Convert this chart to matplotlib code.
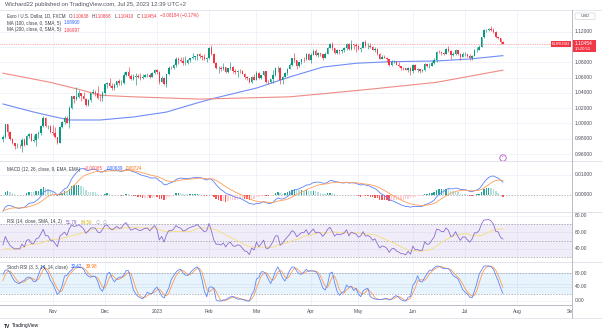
import numpy as np
import pandas as pd
import matplotlib
matplotlib.use("Agg")
import matplotlib.pyplot as plt
from matplotlib.patches import Rectangle, FancyBboxPatch, Ellipse
from matplotlib.lines import Line2D
from matplotlib.transforms import blended_transform_factory

# ---------------- data: EUR/USD daily, Oct 3 2022 .. Jul 25 2023 ----------------
# closes before the first shown bar, only used to warm up the oscillators
warmup_closes = [1.0260, 1.0165, 1.0168, 1.0246, 1.0180, 1.0197, 1.0211, 1.0297, 1.0320, 1.0260,
                 1.0159, 1.0169, 1.0178, 1.0090, 1.0038, 0.9943, 0.9970, 0.9967, 0.9970, 0.9964,
                 1.0002, 1.0016, 1.0054, 0.9947, 0.9956, 0.9926, 0.9904, 1.0014, 1.0000, 1.0044,
                 1.0122, 0.9968, 0.9980, 0.9995, 1.0015, 1.0025, 0.9970, 0.9836, 0.9837, 0.9690,
                 0.9607, 0.9593, 0.9736, 0.9815, 0.9802]

closes = [
    # Oct
    0.9825, 0.9987, 0.9885, 0.9794, 0.9740, 0.9705, 0.9707, 0.9702, 0.9780, 0.9720, 0.9840,
    0.9856, 0.9776, 0.9780, 0.9862, 0.9880, 0.9964, 1.0078, 0.9966, 0.9966, 0.9882,
    # Nov
    0.9877, 0.9820, 0.9749, 0.9959, 1.0018, 1.0074, 1.0012, 1.0209, 1.0356, 1.0327, 1.0350,
    1.0394, 1.0364, 1.0325, 1.0243, 1.0308, 1.0397, 1.0408, 1.0400, 1.0338, 1.0330, 1.0405,
    # Dec
    1.0523, 1.0535, 1.0493, 1.0466, 1.0506, 1.0555, 1.0531, 1.0537, 1.0632, 1.0677, 1.0628,
    1.0584, 1.0606, 1.0620, 1.0605, 1.0595, 1.0616, 1.0638, 1.0639, 1.0614, 1.0661, 1.0705,
    # Jan
    1.0669, 1.0550, 1.0603, 1.0522, 1.0644, 1.0734, 1.0733, 1.0763, 1.0852, 1.0830, 1.0821,
    1.0788, 1.0796, 1.0830, 1.0855, 1.0871, 1.0885, 1.0912, 1.0891, 1.0868, 1.0847, 1.0862,
    # Feb
    1.0990, 1.0912, 1.0795, 1.0727, 1.0727, 1.0714, 1.0740, 1.0679, 1.0724, 1.0739, 1.0687,
    1.0676, 1.0694, 1.0686, 1.0650, 1.0605, 1.0595, 1.0545, 1.0608, 1.0576,
    # Mar
    1.0666, 1.0597, 1.0633, 1.0683, 1.0548, 1.0544, 1.0581, 1.0641, 1.0730, 1.0733, 1.0577,
    1.0611, 1.0668, 1.0718, 1.0770, 1.0853, 1.0830, 1.0760, 1.0801, 1.0844, 1.0843, 1.0905, 1.0839,
    # Apr
    1.0902, 1.0956, 1.0903, 1.0919, 1.0905, 1.0861, 1.0914, 1.0995, 1.1047, 1.0991, 1.0925,
    1.0970, 1.0956, 1.0970, 1.0990, 1.1049, 1.0972, 1.1041, 1.1028, 1.1017,
    # May
    1.0977, 1.0996, 1.1067, 1.1012, 1.1019, 1.1004, 1.0962, 1.0980, 1.0917, 1.0850, 1.0874,
    1.0863, 1.0840, 1.0769, 1.0805, 1.0813, 1.0771, 1.0752, 1.0725, 1.0723, 1.0705, 1.0734, 1.0689,
    # Jun
    1.0763, 1.0708, 1.0712, 1.0694, 1.0699, 1.0781, 1.0748, 1.0754, 1.0792, 1.0830, 1.0944,
    1.0938, 1.0922, 1.0918, 1.0976, 1.0955, 1.0894, 1.0905, 1.0960, 1.0913, 1.0866, 1.0910,
    # Jul
    1.0910, 1.0880, 1.0853, 1.0888, 1.0968, 1.0970, 1.1006, 1.1128, 1.1225, 1.1228, 1.1238,
    1.1225, 1.1199, 1.1128, 1.1124, 1.10638, 1.10454,
]

highs = [
    0.9855, 0.9999, 0.9990, 0.9905, 0.9808, 0.9750, 0.9740, 0.9737, 0.9808, 0.9808, 0.9851,
    0.9876, 0.9871, 0.9851, 0.9870, 0.9905, 0.9976, 1.0093, 1.0089, 0.9985, 0.9985,
    0.9976, 0.9953, 0.9823, 0.9966, 1.0034, 1.0095, 1.0094, 1.0223, 1.0365, 1.0364, 1.0481,
    1.0443, 1.0405, 1.0407, 1.0331, 1.0318, 1.0406, 1.0448, 1.0436, 1.0497, 1.0389, 1.0429,
    1.0534, 1.0545, 1.0595, 1.0525, 1.0530, 1.0560, 1.0588, 1.0570, 1.0674, 1.0695, 1.0737,
    1.0652, 1.0645, 1.0666, 1.0645, 1.0658, 1.0645, 1.0645, 1.0666, 1.0665, 1.0675, 1.0714,
    1.0711, 1.0683, 1.0624, 1.0610, 1.0650, 1.0760, 1.0760, 1.0776, 1.0868, 1.0874, 1.0874,
    1.0872, 1.0887, 1.0846, 1.0860, 1.0927, 1.0890, 1.0915, 1.0929, 1.0897, 1.0914, 1.0874,
    1.1000, 1.1033, 1.0930, 1.0802, 1.0760, 1.0757, 1.0790, 1.0745, 1.0734, 1.0805, 1.0760,
    1.0714, 1.0700, 1.0718, 1.0700, 1.0668, 1.0625, 1.0600, 1.0621, 1.0646,
    1.0691, 1.0670, 1.0638, 1.0694, 1.0694, 1.0565, 1.0584, 1.0702, 1.0736, 1.0759, 1.0747,
    1.0629, 1.0680, 1.0730, 1.0788, 1.0856, 1.0930, 1.0830, 1.0809, 1.0849, 1.0868, 1.0925, 1.0925,
    1.0920, 1.0973, 1.0971, 1.0944, 1.0921, 1.0915, 1.0938, 1.0998, 1.1050, 1.1075, 1.0993,
    1.0981, 1.0982, 1.0974, 1.0999, 1.1054, 1.1050, 1.1095, 1.1045, 1.1054,
    1.1035, 1.1008, 1.1077, 1.1092, 1.1055, 1.1058, 1.1017, 1.1000, 1.0990, 1.0926, 1.0897,
    1.0904, 1.0878, 1.0845, 1.0830, 1.0830, 1.0818, 1.0808, 1.0760, 1.0740, 1.0730, 1.0746, 1.0735,
    1.0779, 1.0779, 1.0733, 1.0712, 1.0718, 1.0787, 1.0786, 1.0790, 1.0823, 1.0865, 1.0953,
    1.0970, 1.0937, 1.0936, 1.0985, 1.1012, 1.0960, 1.0934, 1.0976, 1.0966, 1.0926, 1.0933,
    1.0935, 1.0912, 1.0906, 1.0896, 1.0975, 1.0998, 1.1026, 1.1139, 1.1233, 1.1245, 1.1250,
    1.1276, 1.1246, 1.1216, 1.1145, 1.1125, 1.10868,
]

lows = [
    0.9755, 0.9810, 0.9835, 0.9780, 0.9730, 0.9670, 0.9685, 0.9680, 0.9632, 0.9706, 0.9720,
    0.9805, 0.9765, 0.9758, 0.9705, 0.9808, 0.9850, 0.9955, 0.9955, 0.9925, 0.9870,
    0.9852, 0.9813, 0.9730, 0.9746, 0.9935, 0.9996, 1.0000, 0.9935, 1.0185, 1.0270, 1.0310,
    1.0335, 1.0300, 1.0315, 1.0223, 1.0225, 1.0285, 1.0385, 1.0357, 1.0325, 1.0290, 1.0290,
    1.0380, 1.0460, 1.0480, 1.0444, 1.0443, 1.0485, 1.0510, 1.0500, 1.0520, 1.0620, 1.0595,
    1.0575, 1.0572, 1.0500, 1.0593, 1.0573, 1.0585, 1.0605, 1.0610, 1.0595, 1.0610, 1.0650,
    1.0653, 1.0520, 1.0547, 1.0510, 1.0483, 1.0640, 1.0712, 1.0720, 1.0740, 1.0780, 1.0805,
    1.0765, 1.0766, 1.0776, 1.0802, 1.0852, 1.0836, 1.0834, 1.0858, 1.0838, 1.0836, 1.0801,
    1.0843, 1.0895, 1.0795, 1.0709, 1.0668, 1.0687, 1.0700, 1.0664, 1.0656, 1.0701, 1.0659,
    1.0655, 1.0613, 1.0660, 1.0643, 1.0590, 1.0577, 1.0536, 1.0533, 1.0570,
    1.0576, 1.0578, 1.0585, 1.0622, 1.0537, 1.0524, 1.0537, 1.0525, 1.0620, 1.0679, 1.0516,
    1.0518, 1.0606, 1.0630, 1.0711, 1.0760, 1.0810, 1.0713, 1.0746, 1.0786, 1.0808, 1.0833, 1.0832,
    1.0788, 1.0892, 1.0887, 1.0877, 1.0880, 1.0833, 1.0853, 1.0910, 1.0990, 1.0968, 1.0910,
    1.0912, 1.0914, 1.0925, 1.0937, 1.0966, 1.0965, 1.0968, 1.0980, 1.0942,
    1.0966, 1.0940, 1.0985, 1.1004, 1.0975, 1.0995, 1.0960, 1.0940, 1.0904, 1.0847, 1.0846,
    1.0858, 1.0810, 1.0760, 1.0760, 1.0790, 1.0762, 1.0747, 1.0708, 1.0703, 1.0698, 1.0672, 1.0635,
    1.0663, 1.0703, 1.0675, 1.0667, 1.0676, 1.0687, 1.0735, 1.0733, 1.0749, 1.0776, 1.0813,
    1.0925, 1.0904, 1.0894, 1.0916, 1.0943, 1.0845, 1.0885, 1.0899, 1.0896, 1.0835, 1.0867,
    1.0890, 1.0870, 1.0834, 1.0833, 1.0879, 1.0941, 1.0963, 1.0998, 1.1125, 1.1200, 1.1213,
    1.1217, 1.1184, 1.1117, 1.1102, 1.1046, 1.10410,
]

# FX daily bars open where the previous bar closed
opens = [warmup_closes[-1]] + closes[:-1]

# moving averages, read at selected bars
ma100_at = [0, 13, 20, 28, 41, 55, 69, 82, 89, 107, 121, 135, 149, 163, 183, 197, 211]
ma100_val = [1.0256, 1.0150, 1.0100, 1.0046, 1.0046, 1.0085, 1.0150, 1.0270, 1.0330, 1.0465,
             1.0610, 1.0740, 1.0790, 1.0810, 1.0820, 1.0846, 1.08900]
ma200_at = [0, 20, 33, 41, 55, 83, 121, 135, 155, 183, 197, 211]
ma200_val = [1.0660, 1.0540, 1.0440, 1.0370, 1.0350, 1.0320, 1.0350, 1.0390, 1.0450, 1.0540,
             1.0620, 1.06997]

month_at = [21, 43, 65, 87, 107, 130, 150, 173, 195, 217, 240]
month_labels = ["Nov", "Dec", "2023", "Feb", "Mar", "Apr", "May", "Jun", "Jul", "Aug", "Sep"]

price_ticks = [1.12, 1.10, 1.08, 1.06, 1.04, 1.02, 1.00, 0.98, 0.96]
macd_ticks = [0.01, 0.0]
rsi_ticks = [80, 60, 40]
stoch_ticks = [80, 40, 0]

last_close = 1.10454

# ---------------- indicators ----------------
c_all = pd.Series(warmup_closes + closes, dtype=float)
nw = len(warmup_closes)
n = len(closes)

ema12 = c_all.ewm(span=12, adjust=False).mean()
ema26 = c_all.ewm(span=26, adjust=False).mean()
macd_all = ema12 - ema26
signal_all = macd_all.ewm(span=9, adjust=False).mean()
hist_all = macd_all - signal_all


def rma(x, length):
    x = np.asarray(x, float)
    out = np.full(len(x), np.nan)
    out[length] = np.mean(x[1:length + 1])
    for i in range(length + 1, len(x)):
        out[i] = (out[i - 1] * (length - 1) + x[i]) / length
    return out


delta = c_all.diff().values
up = rma(np.where(delta > 0, delta, 0.0), 14)
dn = rma(np.where(delta < 0, -delta, 0.0), 14)
rsi_all = pd.Series(100 - 100 / (1 + up / dn))
rsi_ma_all = rsi_all.rolling(14).mean()
lo = rsi_all.rolling(14).min()
hi = rsi_all.rolling(14).max()
stoch_k_all = (100 * (rsi_all - lo) / (hi - lo)).rolling(3).mean()
stoch_d_all = stoch_k_all.rolling(3).mean()

macd = macd_all.values[nw:]
signal = signal_all.values[nw:]
hist = hist_all.values[nw:]
hist_prev = hist_all.values[nw - 1:-1]
rsi = rsi_all.values[nw:]
rsi_ma = rsi_ma_all.values[nw:]
stoch_k = stoch_k_all.values[nw:]
stoch_d = stoch_d_all.values[nw:]

# ---------------- figure layout (pixel based) ----------------
W, H = 602, 331
plt.rcParams['font.family'] = ['Liberation Sans', 'DejaVu Sans']
fig = plt.figure(figsize=(W / 100, H / 100), dpi=100)
fig.patch.set_facecolor('white')

BAR_PX = 2.3695
X0_PX = 2.94
AX_RIGHT = 572
XLIM = ((0 - X0_PX) / BAR_PX, (AX_RIGHT - X0_PX) / BAR_PX)

GRID = '#eef1f8'
TXT = '#3b3e48'
AXTXT = '#4a4d57'
BORDER = '#b8bbc4'
SEP = '#e0e3eb'
UP = '#089981'
DOWN = '#f23645'
FS = 3.5
LFS = 3.25


def px_axes(x0, y0, x1, y1):
    ax = fig.add_axes([x0 / W, 1 - y1 / H, (x1 - x0) / W, (y1 - y0) / H])
    ax.set_axis_off()
    ax.patch.set_alpha(0)
    return ax


def fig_line(x0, y0, x1, y1, **kw):
    fig.add_artist(Line2D([x0 / W, x1 / W], [1 - y0 / H, 1 - y1 / H],
                          transform=fig.transFigure, **kw))


def fig_rect(x0, y0, x1, y1, **kw):
    fig.add_artist(Rectangle((x0 / W, 1 - y1 / H), (x1 - x0) / W, (y1 - y0) / H,
                             transform=fig.transFigure, **kw))


def fig_text(x, y, s, **kw):
    kw.setdefault('fontsize', FS)
    kw.setdefault('va', 'center')
    return fig.text(x / W, 1 - y / H, s, **kw)


renderer = fig.canvas.get_renderer()


def legend_row(x, y, pieces, size=LFS):
    for txt, col, gap in pieces:
        t = fig_text(x, y, txt, color=col, fontsize=size, ha='left')
        x += t.get_window_extent(renderer=renderer).width + gap


panes = {
    'main': (10, 161, (0.95082, 1.14885)),
    'macd': (161, 212, (-0.0085, 0.017)),
    'rsi': (212, 262, (23.94, 84.55)),
    'stoch': (262, 305, (-11.43, 111.43)),
}

axes = {}
scales = {}
for name, (y0, y1, yl) in panes.items():
    ax = px_axes(0, y0, AX_RIGHT, y1)
    ax.set_xlim(*XLIM)
    ax.set_ylim(*yl)
    for m in month_at:
        ax.axvline(m, color=GRID, lw=0.6, zorder=0)
    axes[name] = ax
    sc = px_axes(AX_RIGHT, y0, W, y1)
    sc.set_xlim(0, 1)
    sc.set_ylim(*yl)
    scales[name] = sc

idx = np.arange(n)

# ---------------- main pane: candles + moving averages ----------------
ax = axes['main']
for p in price_ticks:
    ax.axhline(p, color=GRID, lw=0.6, zorder=0)

o = np.array(opens)
c = np.array(closes)
h = np.array(highs)
l = np.array(lows)
cols = np.where(c >= o, UP, DOWN)
ax.vlines(idx, l, h, colors=cols, lw=0.45, zorder=3)
ax.bar(idx, np.abs(c - o), bottom=np.minimum(o, c), width=0.62, color=cols, lw=0, zorder=4)

ax.plot(ma100_at, ma100_val, color='#6f8df6', lw=0.8, zorder=2)
ax.plot(ma200_at, ma200_val, color='#f08a84', lw=0.8, zorder=2)

end_idx = (551 - X0_PX) / BAR_PX
ax.hlines(last_close, XLIM[0], end_idx, colors=DOWN, lw=0.5, linestyles=(0, (1, 1.5)),
          alpha=0.8, zorder=1)

# ---------------- MACD ----------------
ax = axes['macd']
ax.axhline(0.01, color=GRID, lw=0.6, zorder=0)
ax.axhline(0.0, color='#9598a1', lw=0.5, ls=(0, (2, 2)), zorder=1)
hcols = []
for hv, hp in zip(hist, hist_prev):
    if hv >= 0:
        hcols.append('#26a69a' if hv > hp else '#b2dfdb')
    else:
        hcols.append('#ffcdd2' if hv > hp else '#ff5252')
ax.bar(idx, hist, width=0.6, color=hcols, lw=0, zorder=2)
ax.plot(idx, macd, color='#5f82f7', lw=0.6, zorder=3)
ax.plot(idx, signal, color='#ff9d57', lw=0.6, zorder=3)

# ---------------- RSI ----------------
ax = axes['rsi']
for v in rsi_ticks:
    ax.axhline(v, color=GRID, lw=0.6, zorder=0)
ax.axhspan(30, 70, color='#7e57c2', alpha=0.1, lw=0, zorder=0)
for v in (70, 50, 30):
    ax.axhline(v, color='#9598a1', lw=0.5, ls=(0, (2, 2)), zorder=1)
ax.plot(idx, rsi_ma, color='#f3dd7a', lw=0.6, zorder=2)
ax.plot(idx, rsi, color='#8c6bd1', lw=0.6, zorder=3)

# ---------------- Stoch RSI ----------------
ax = axes['stoch']
for v in stoch_ticks:
    ax.axhline(v, color=GRID, lw=0.6, zorder=0)
ax.axhspan(20, 80, color='#2196f3', alpha=0.1, lw=0, zorder=0)
for v in (80, 20):
    ax.axhline(v, color='#9598a1', lw=0.5, ls=(0, (2, 2)), zorder=1)
ax.axhline(50, color='#c4c6cc', lw=0.4, ls=(0, (2, 2)), zorder=1)
ax.plot(idx, stoch_k, color='#5f86f8', lw=0.6, zorder=3)
ax.plot(idx, stoch_d, color='#ff9a4f', lw=0.6, zorder=2)

# ---------------- price scale labels ----------------
def scale_labels(name, values, fmt):
    sc = scales[name]
    tr = blended_transform_factory(sc.transAxes, sc.transData)
    for v in values:
        sc.text(0.1, v, fmt.format(v), transform=tr, fontsize=FS, color=AXTXT,
                va='center', ha='left', clip_on=True)


scale_labels('main', [p for p in price_ticks if abs(p - 1.10) > 1e-9], '{:.5f}')
scale_labels('macd', macd_ticks, '{:.5f}')
scale_labels('rsi', rsi_ticks, '{:.2f}')
scale_labels('stoch', stoch_ticks, '{:.2f}')

# ---------------- time scale ----------------
tax = px_axes(0, 305, AX_RIGHT, 318)
tax.set_xlim(*XLIM)
tax.set_ylim(0, 1)
for m, lab in zip(month_at, month_labels):
    tax.text(m, 0.5, lab, fontsize=FS, color=AXTXT, ha='center', va='center', clip_on=True)

# ---------------- frame lines ----------------
fig_line(0, 9.5, W, 9.5, color=SEP, lw=0.6)
for yy in (161, 212, 262):
    fig_line(0, yy, W, yy, color=SEP, lw=0.7)
fig_line(0, 305, AX_RIGHT, 305, color=BORDER, lw=0.7)
fig_line(0, 318, W, 318, color=SEP, lw=0.6)
fig_line(AX_RIGHT, 9.5, AX_RIGHT, 318, color=BORDER, lw=0.7)

# ---------------- header and legends ----------------
fig_text(5, 4.8, "Wichard22 published on TradingView.com, Jul 25, 2023 12:39 UTC+2",
         color='#50535e', ha='left', fontsize=4.2)

legend_row(7, 16, [
    ("Euro / U.S. Dollar, 1D, FXCM", TXT, 3.0),
    ("O", TXT, 0.2), ("1.10638", DOWN, 3.0),
    ("H", TXT, 0.2), ("1.10868", DOWN, 3.0),
    ("L", TXT, 0.2), ("1.10410", DOWN, 3.0),
    ("C", TXT, 0.2), ("1.10454", DOWN, 3.0),
    ("\u22120.00184 (\u22120.17%)", DOWN, 0),
])
legend_row(7, 23, [("MA (100, close, 0, SMA, 5)", TXT, 3.0), ("1.08900", '#2962ff', 0)])
legend_row(7, 30, [("MA (200, close, 0, SMA, 5)", TXT, 3.0), ("1.06997", DOWN, 0)])
legend_row(7, 169, [("MACD (12, 26, close, 9, EMA, EMA)", TXT, 3.5),
                    ("\u22120.00085", '#ff5252', 3.5), ("0.00639", '#2962ff', 3.5),
                    ("0.00724", '#ff6d00', 0)])
legend_row(7, 222, [("RSI (14, close, SMA, 14, 2)", TXT, 3.5), ("51.79", '#7e57c2', 3.5),
                    ("64.56", '#d4b106', 3.5), ("\u2205", '#9598a1', 3.0),
                    ("\u2205", '#9598a1', 0)])
legend_row(7, 267, [("Stoch RSI (3, 3, 14, 14, close)", TXT, 3.5),
                    ("32.42", '#2962ff', 3.5), ("39.98", '#ff6d00', 0)])

# ---------------- price scale badges ----------------
fig.add_artist(FancyBboxPatch((575 / W, 1 - 19.5 / H), 20 / W, 6.5 / H,
                              boxstyle='round,pad=0,rounding_size=0.003',
                              transform=fig.transFigure, facecolor='white',
                              edgecolor='#d1d4dc', lw=0.5))
fig_text(585, 16.3, "USD", color=AXTXT, ha='center', fontsize=3.2)

fig_rect(551, 40.5, 570.5, 46.5, facecolor=DOWN, lw=0)
fig_text(560.7, 43.6, "EURUSD", color='white', ha='center', fontsize=3.1)
fig_rect(572, 40, 596, 52, facecolor=DOWN, lw=0)
fig_text(575, 43.4, "1.10454", color='white', ha='left', fontsize=FS)
fig_text(575, 48.6, "10:20:51", color='white', ha='left', fontsize=3.1)

# event marker above the MACD pane
fig.add_artist(Ellipse((503 / W, 1 - 158 / H), 6.4 / W, 6.4 / H, transform=fig.transFigure,
                       facecolor='white', edgecolor='#b455c8', lw=0.6))
fig_text(503, 158, "\u2022", color='#b455c8', ha='center', fontsize=3.0)

# footer
fig_text(4, 326, "TV", color='#131722', ha='left', fontsize=3.6, fontweight='bold')
fig_text(11.5, 326, "TradingView", color='#131722', ha='left', fontsize=3.5)

fig.savefig("out.png", dpi=100, facecolor='white')
